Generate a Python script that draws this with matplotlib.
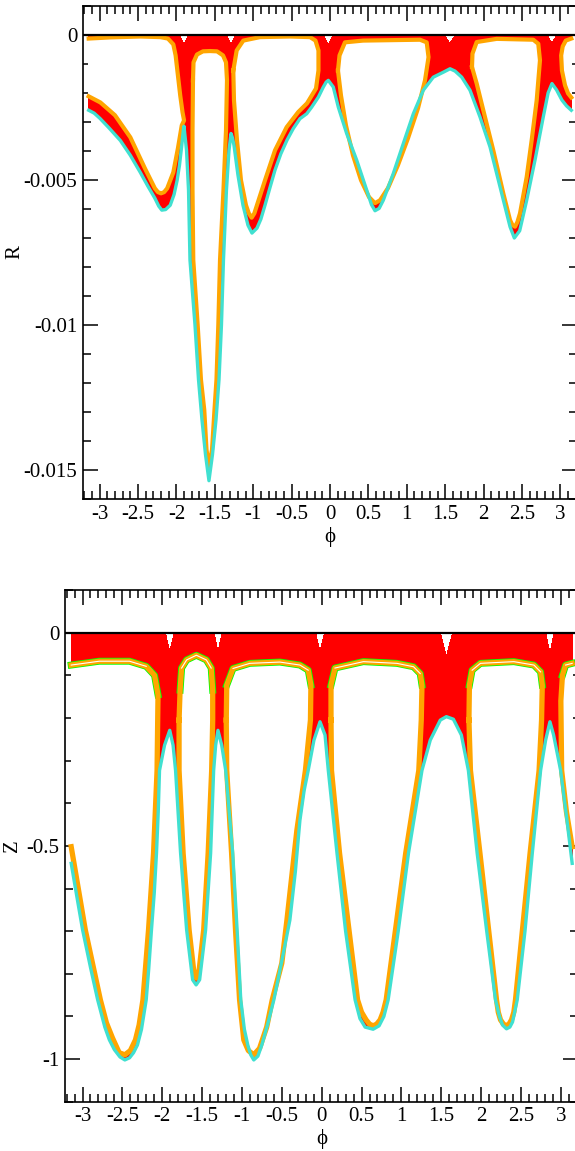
import numpy as np
import matplotlib
matplotlib.use("Agg")
import matplotlib.pyplot as plt
from matplotlib.ticker import MultipleLocator, FuncFormatter

plt.rcParams['font.family'] = ['Liberation Serif', 'DejaVu Serif']
plt.rcParams['axes.unicode_minus'] = False

RED = '#ff0000'
ORANGE = '#ffa500'
TURQ = '#40e0d0'
GREEN = '#00ff00'

# ---------------- upper panel : R(phi) ----------------
# turquoise boundary curve (also lower edge of the red band)
phi_top = [-3.142, -3.07, -2.995, -2.88, -2.73, -2.60, -2.47, -2.37, -2.28, -2.23, -2.19,
           -2.14, -2.08, -2.03, -1.99, -1.96, -1.93, -1.91, -1.901,
           -1.868, -1.842, -1.823, -1.758, -1.712, -1.667, -1.621, -1.576, -1.530,
           -1.484, -1.445, -1.413, -1.387, -1.348, -1.315, -1.289, -1.27, -1.25, -1.198,
           -1.133, -1.068, -1.016, -0.951, -0.90, -0.846, -0.78, -0.716, -0.64, -0.560,
           -0.478, -0.391, -0.303, -0.238, -0.152, -0.087, -0.05, -0.022, 0.043, 0.108,
           0.217, 0.348, 0.478, 0.54, 0.586, 0.64, 0.694, 0.824, 0.954, 1.085, 1.215,
           1.345, 1.475, 1.563, 1.628, 1.715, 1.823, 1.953, 2.083, 2.214, 2.344, 2.40,
           2.47, 2.561, 2.669, 2.777, 2.84, 2.89, 2.95, 3.02, 3.08, 3.142]
r_turq = [-2.60e-3, -2.70e-3, -2.88e-3, -3.20e-3, -3.64e-3, -4.15e-3, -4.74e-3, -5.22e-3,
          -5.63e-3, -5.90e-3, -6.04e-3, -6.02e-3, -5.87e-3, -5.50e-3, -5.01e-3, -4.50e-3,
          -3.81e-3, -3.30e-3, -3.15e-3,
          -3.98e-3, -5.35e-3, -7.76e-3, -9.99e-3, -11.88e-3, -13.26e-3, -14.46e-3,
          -15.36e-3, -14.46e-3, -13.26e-3, -11.88e-3, -9.99e-3, -7.76e-3, -5.35e-3,
          -3.98e-3, -3.40e-3, -3.55e-3, -3.81e-3, -4.84e-3, -5.87e-3, -6.56e-3, -6.83e-3,
          -6.66e-3, -6.35e-3, -5.87e-3, -5.25e-3, -4.66e-3, -4.10e-3, -3.63e-3, -3.23e-3,
          -2.89e-3, -2.72e-3, -2.49e-3, -2.15e-3, -1.80e-3, -1.63e-3, -1.57e-3, -1.80e-3,
          -2.49e-3, -3.40e-3, -4.32e-3, -5.35e-3, -5.85e-3, -6.06e-3, -5.98e-3, -5.70e-3,
          -4.78e-3, -3.75e-3, -2.72e-3, -1.91e-3, -1.46e-3, -1.29e-3, -1.17e-3, -1.25e-3,
          -1.46e-3, -1.91e-3, -2.83e-3, -3.86e-3, -5.24e-3, -6.61e-3, -7.00e-3, -6.75e-3,
          -5.70e-3, -4.32e-3, -2.83e-3, -2.00e-3, -1.68e-3, -1.90e-3, -2.25e-3, -2.45e-3,
          -2.60e-3]
# upper edge of the red band, with small notches above the turquoise peaks
phi_red_top = [-3.142, -1.96, -1.901, -1.84, -1.35, -1.289, -1.23, -0.085, -0.022, 0.04,
               1.49, 1.563, 1.63, 2.83, 2.89, 2.95, 3.142]
r_red_top = [-2e-5, -2e-5, -3.2e-4, -2e-5, -2e-5, -3.5e-4, -2e-5, -2e-5, -3.5e-4, -2e-5,
             -2e-5, -3.0e-4, -2e-5, -2e-5, -3.0e-4, -2e-5, -2e-5]

# orange orbits (closed loops; the first one wraps across +-pi)
loopA_left_phi = [-3.142, -2.86, -2.47, -2.21, -2.11, -2.04, -2.01, -1.98, -1.95, -1.92, -1.90,
                  -1.93, -1.98, -2.04, -2.12, -2.16, -2.20, -2.24, -2.28, -2.41, -2.60,
                  -2.80, -2.99, -3.142]
loopA_left_r = [-0.13e-3, -0.09e-3, -0.06e-3, -0.08e-3, -0.13e-3, -0.33e-3, -0.71e-3, -1.40e-3,
                -2.09e-3, -2.67e-3, -2.95e-3, -3.12e-3, -3.91e-3, -4.74e-3, -5.29e-3, -5.42e-3,
                -5.46e-3, -5.42e-3, -5.29e-3, -4.60e-3, -3.53e-3, -2.77e-3, -2.33e-3, -2.12e-3]
loopA_right_phi = [3.142, 3.07, 3.03, 3.01, 3.02, 3.06, 3.10, 3.142]
loopA_right_r = [-0.13e-3, -0.20e-3, -0.40e-3, -0.71e-3, -1.23e-3, -1.74e-3, -2.02e-3, -2.16e-3]

loopB_phi = [-1.784, -1.777, -1.732, -1.654, -1.563, -1.471, -1.393, -1.354, -1.341, -1.354,
             -1.387, -1.432, -1.454, -1.478, -1.504, -1.536, -1.576, -1.608, -1.637, -1.680,
             -1.723, -1.780, -1.790, -1.790]
loopB_r = [-1.57e-3, -0.95e-3, -0.68e-3, -0.57e-3, -0.56e-3, -0.57e-3, -0.71e-3, -0.95e-3,
           -1.57e-3, -3.29e-3, -5.35e-3, -7.76e-3, -9.99e-3, -11.88e-3, -12.92e-3, -14.29e-3,
           -14.87e-3, -14.29e-3, -12.92e-3, -11.88e-3, -9.99e-3, -7.76e-3, -5.35e-3, -3.29e-3]

loopC_phi = [-1.259, -1.215, -1.129, -0.911, -0.521, -0.260, -0.189, -0.150, -0.150, -0.182,
             -0.299, -0.413, -0.564, -0.716, -0.846, -0.951, -0.985, -1.020, -1.057, -1.094,
             -1.159, -1.211, -1.250]
loopC_r = [-1.23e-3, -0.54e-3, -0.20e-3, -0.08e-3, -0.06e-3, -0.08e-3, -0.20e-3, -0.54e-3,
           -1.23e-3, -1.85e-3, -2.36e-3, -2.66e-3, -3.18e-3, -3.98e-3, -5.01e-3, -5.87e-3,
           -6.15e-3, -6.30e-3, -6.15e-3, -5.87e-3, -5.01e-3, -3.63e-3, -2.26e-3]

loopD_phi = [0.104, 0.124, 0.195, 0.430, 0.911, 1.172, 1.259, 1.283, 1.237, 1.146, 1.016,
             0.885, 0.755, 0.651, 0.586, 0.508, 0.404, 0.299, 0.208, 0.143]
loopD_r = [-1.23e-3, -0.71e-3, -0.26e-3, -0.20e-3, -0.18e-3, -0.17e-3, -0.26e-3, -0.77e-3,
           -1.57e-3, -2.53e-3, -3.56e-3, -4.49e-3, -5.28e-3, -5.70e-3, -5.80e-3, -5.59e-3,
           -5.01e-3, -4.15e-3, -3.12e-3, -2.09e-3]

loopE_phi = [1.849, 1.855, 1.910, 2.171, 2.647, 2.712, 2.734, 2.691, 2.626, 2.561, 2.474,
             2.44, 2.409, 2.375, 2.344, 2.257, 2.126, 1.996, 1.910]
loopE_r = [-1.11e-3, -0.65e-3, -0.25e-3, -0.14e-3, -0.17e-3, -0.31e-3, -0.88e-3, -2.26e-3,
           -3.63e-3, -4.90e-3, -6.15e-3, -6.45e-3, -6.61e-3, -6.55e-3, -6.38e-3, -5.47e-3,
           -3.98e-3, -2.60e-3, -1.68e-3]

# ---------------- lower panel : Z(phi) ----------------
phi_bot = [-3.142, -3.07, -2.999, -2.90, -2.810, -2.72, -2.663, -2.60, -2.53, -2.469, -2.41,
           -2.36, -2.311, -2.26, -2.201, -2.17, -2.135, -2.10, -2.072, -2.05, -2.034,
           -1.971, -1.906, -1.864, -1.833, -1.770, -1.694, -1.619, -1.575, -1.531, -1.456,
           -1.393, -1.355, -1.330, -1.301, -1.254, -1.204, -1.116, -1.06, -1.015, -0.97,
           -0.927, -0.89, -0.852, -0.80, -0.751, -0.68, -0.600, -0.50, -0.399, -0.33,
           -0.273, -0.22, -0.169, -0.097, -0.021, 0.042, 0.083, 0.192, 0.30, 0.419, 0.48,
           0.545, 0.645, 0.72, 0.78, 0.834, 0.96, 1.089, 1.258, 1.362, 1.488, 1.564, 1.652,
           1.752, 1.840, 1.950, 2.07, 2.180, 2.23, 2.268, 2.318, 2.36, 2.394, 2.453, 2.55,
           2.642, 2.746, 2.809, 2.863, 2.909, 2.997, 3.07, 3.142]
z_turq = [-0.541, -0.620, -0.697, -0.785, -0.861, -0.925, -0.955, -0.978, -0.995, -1.002,
          -0.997, -0.985, -0.967, -0.930, -0.861, -0.790, -0.697, -0.610, -0.517, -0.420,
          -0.323, -0.264, -0.229, -0.264, -0.323, -0.517, -0.697, -0.814, -0.826, -0.814,
          -0.697, -0.517, -0.323, -0.264, -0.229, -0.264, -0.323, -0.517, -0.700, -0.861,
          -0.930, -0.967, -0.990, -1.002, -0.993, -0.967, -0.920, -0.861, -0.770, -0.674,
          -0.560, -0.440, -0.370, -0.323, -0.252, -0.209, -0.240, -0.323, -0.517, -0.700,
          -0.861, -0.905, -0.925, -0.930, -0.922, -0.900, -0.861, -0.700, -0.517, -0.323,
          -0.252, -0.205, -0.197, -0.203, -0.240, -0.323, -0.517, -0.700, -0.861, -0.900,
          -0.920, -0.929, -0.925, -0.913, -0.861, -0.700, -0.517, -0.323, -0.252, -0.209,
          -0.240, -0.323, -0.430, -0.541]
phi_red_bot = [-3.142, -1.96, -1.906, -1.85, -1.35, -1.301, -1.25, -0.075, -0.021, 0.035,
               1.49, 1.564, 1.64, 2.81, 2.863, 2.915, 3.142]
z_red_top = [-0.002, -0.002, -0.045, -0.002, -0.002, -0.045, -0.002, -0.002, -0.045, -0.002,
             -0.002, -0.057, -0.002, -0.002, -0.048, -0.002, -0.002]

zloopA_left_phi = [-3.142, -2.789, -2.411, -2.201, -2.097, -2.053, -2.065, -2.109, -2.172,
                   -2.242, -2.29, -2.336, -2.40, -2.469, -2.54, -2.625, -2.70, -2.776,
                   -2.965, -3.142]
zloopA_left_z = [-0.076, -0.067, -0.067, -0.079, -0.100, -0.146, -0.323, -0.517, -0.697,
                 -0.861, -0.920, -0.955, -0.980, -0.990, -0.985, -0.950, -0.915, -0.861,
                 -0.697, -0.502]
zloopA_right_phi = [3.142, 3.06, 3.02, 3.00, 3.01, 3.07, 3.142]
zloopA_right_z = [-0.072, -0.076, -0.100, -0.160, -0.323, -0.420, -0.502]

zloopB_phi = [-1.789, -1.776, -1.757, -1.694, -1.572, -1.447, -1.386, -1.367, -1.367, -1.380,
              -1.424, -1.480, -1.537, -1.572, -1.606, -1.663, -1.738, -1.789]
zloopB_z = [-0.205, -0.135, -0.083, -0.064, -0.053, -0.064, -0.083, -0.135, -0.205, -0.323,
            -0.517, -0.697, -0.791, -0.810, -0.791, -0.697, -0.517, -0.323]

zloopC_phi = [-1.197, -1.191, -1.112, -0.902, -0.525, -0.273, -0.169, -0.135, -0.141, -0.204,
              -0.311, -0.436, -0.50, -0.62, -0.69, -0.78, -0.852, -0.92, -0.977, -1.03,
              -1.08, -1.13, -1.191]
zloopC_z = [-0.205, -0.123, -0.084, -0.072, -0.069, -0.076, -0.088, -0.123, -0.205, -0.323,
            -0.463, -0.674, -0.775, -0.861, -0.925, -0.975, -0.990, -0.980, -0.955, -0.861,
            -0.700, -0.517, -0.323]

zloopD_phi = [0.117, 0.117, 0.167, 0.523, 0.943, 1.152, 1.236, 1.258, 1.249, 1.218, 1.054,
              0.809, 0.77, 0.733, 0.69, 0.645, 0.60, 0.557, 0.50, 0.450, 0.224, 0.123]
zloopD_z = [-0.205, -0.123, -0.083, -0.068, -0.072, -0.080, -0.096, -0.123, -0.205, -0.323,
            -0.517, -0.861, -0.890, -0.908, -0.918, -0.922, -0.918, -0.908, -0.890, -0.861,
            -0.517, -0.323]

zloopE_phi = [1.847, 1.853, 1.887, 1.991, 2.410, 2.662, 2.746, 2.767, 2.758, 2.727, 2.614,
              2.431, 2.41, 2.381, 2.35, 2.318, 2.28, 2.243, 2.215, 2.193, 1.985, 1.866]
zloopE_z = [-0.205, -0.123, -0.088, -0.072, -0.068, -0.076, -0.092, -0.123, -0.205, -0.323,
            -0.517, -0.861, -0.890, -0.908, -0.918, -0.922, -0.918, -0.908, -0.890, -0.861,
            -0.517, -0.323]


def fmt(v, pos):
    return '%g' % round(v, 6)


def style_axis(ax, ymaj, ymin_step):
    ax.set_xlim(-3.22, 3.22)
    ax.xaxis.set_major_locator(MultipleLocator(0.5))
    ax.xaxis.set_minor_locator(MultipleLocator(0.1))
    ax.yaxis.set_major_locator(MultipleLocator(ymaj))
    ax.yaxis.set_minor_locator(MultipleLocator(ymin_step))
    ax.xaxis.set_major_formatter(FuncFormatter(fmt))
    ax.yaxis.set_major_formatter(FuncFormatter(fmt))
    ax.tick_params(which='both', direction='in', top=True, right=True, width=1.1,
                   labelsize=15, pad=4)
    ax.tick_params(which='major', length=10.5)
    ax.tick_params(which='minor', length=5.5)
    for s in ax.spines.values():
        s.set_linewidth(1.2)
    ax.set_xlabel('ϕ', fontsize=15, labelpad=2)


def draw_panel(ax, phi, turq, phi_red, red_top, wrap_loops, closed_loops, double=False):
    # red band: top edge from the red list, bottom edge along the turquoise curve
    ax.fill(list(phi_red) + phi[::-1], list(red_top) + turq[::-1], color=RED, lw=0,
            zorder=1, antialiased=False)
    lw = 3.8 if double else 3.0
    for lp, lv, closed in [(p, v, False) for p, v in wrap_loops] + [(p, v, True) for p, v in closed_loops]:
        ax.fill(lp, lv, color='white', lw=0, zorder=2, antialiased=False)
        xs, ys = (lp + lp[:1], lv + lv[:1]) if closed else (lp, lv)
        if double:
            cap = [i for i, v in enumerate(lv) if v > -0.15]
            ax.plot([lp[i] for i in cap], [lv[i] for i in cap], color=GREEN, lw=5.0, zorder=3)
        ax.plot(xs, ys, color=ORANGE, lw=lw, zorder=4, solid_joinstyle='round')
        if double:
            cap = [i for i, v in enumerate(lv) if v > -0.1]
            ax.plot([lp[i] for i in cap], [lv[i] for i in cap], color='white', lw=0.8, zorder=4.5)
    ax.plot(phi, turq, color=TURQ, lw=2.4, zorder=5)
    ax.axhline(0, color='black', lw=1.6, zorder=6)


fig = plt.figure(figsize=(5.75, 11.51), dpi=100)

ax1 = fig.add_axes([0.1438, 0.5662, 0.8602, 0.4288])
draw_panel(ax1, phi_top, r_turq, phi_red_top, r_red_top,
           [(loopA_left_phi, loopA_left_r), (loopA_right_phi, loopA_right_r)],
           [(loopB_phi, loopB_r), (loopC_phi, loopC_r), (loopD_phi, loopD_r), (loopE_phi, loopE_r)])
ax1.set_ylim(-0.016, 0.001)
style_axis(ax1, 0.005, 0.001)
ax1.set_ylabel('R', fontsize=15)
ax1.yaxis.set_label_coords(-0.118, 0.5)

ax2 = fig.add_axes([0.1130, 0.0428, 0.8929, 0.4446])
draw_panel(ax2, phi_bot, z_turq, phi_red_bot, z_red_top,
           [(zloopA_left_phi, zloopA_left_z), (zloopA_right_phi, zloopA_right_z)],
           [(zloopB_phi, zloopB_z), (zloopC_phi, zloopC_z), (zloopD_phi, zloopD_z), (zloopE_phi, zloopE_z)],
           double=True)
ax2.set_ylim(-1.1, 0.1)
style_axis(ax2, 0.5, 0.1)
ax2.set_ylabel('Z', fontsize=15)
ax2.yaxis.set_label_coords(-0.084, 0.5)

fig.savefig('out.png', dpi=100)
